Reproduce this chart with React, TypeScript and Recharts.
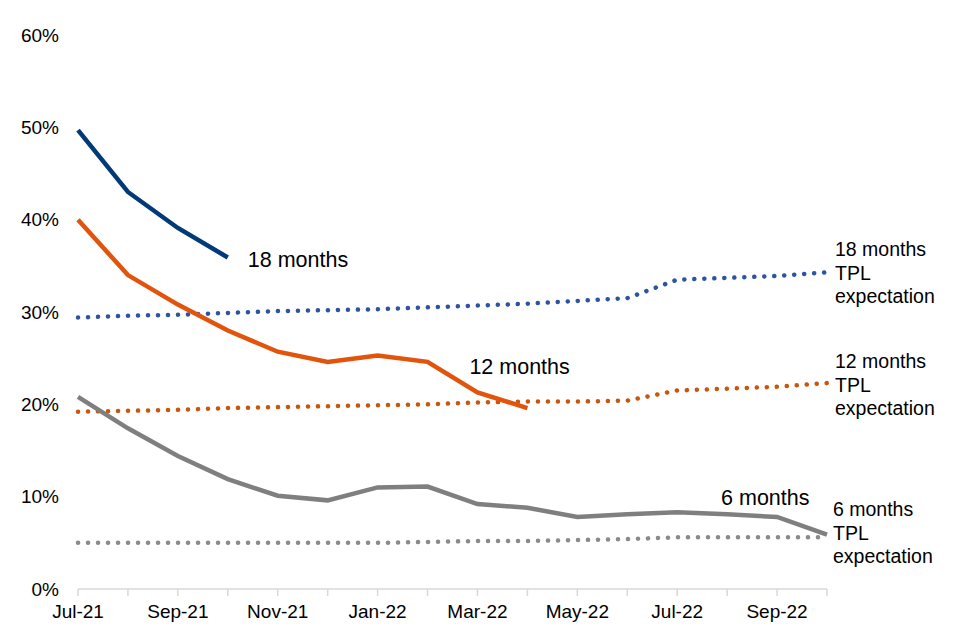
import { LineChart, Line, XAxis, YAxis } from 'recharts'

const months = [
  'Jul-21', 'Aug-21', 'Sep-21', 'Oct-21', 'Nov-21', 'Dec-21', 'Jan-22', 'Feb-22',
  'Mar-22', 'Apr-22', 'May-22', 'Jun-22', 'Jul-22', 'Aug-22', 'Sep-22', 'Oct-22',
]

const m18 = [49.7, 43.0, 39.1, 35.9]
const m12 = [40.0, 34.0, 30.8, 28.0, 25.7, 24.6, 25.3, 24.6, 21.3, 19.6]
const m6 = [20.8, 17.4, 14.4, 11.9, 10.1, 9.6, 11.0, 11.1, 9.2, 8.8, 7.8, 8.1, 8.3, 8.1, 7.8, 5.9]
const tpl18 = [29.4, 29.6, 29.7, 29.9, 30.1, 30.2, 30.3, 30.5, 30.7, 30.9, 31.2, 31.5, 33.5, 33.7, 33.9, 34.3]
const tpl12 = [19.2, 19.3, 19.4, 19.6, 19.7, 19.8, 19.9, 20.0, 20.2, 20.3, 20.3, 20.4, 21.5, 21.7, 21.9, 22.3]
const tpl6 = [5.0, 5.0, 5.0, 5.0, 5.0, 5.0, 5.0, 5.1, 5.2, 5.2, 5.3, 5.4, 5.6, 5.6, 5.6, 5.6]

const yTicks = [0, 10, 20, 30, 40, 50, 60]

const data = months.map((month, i) => ({
  month,
  m18: m18[i] ?? null,
  m12: m12[i] ?? null,
  m6: m6[i],
  tpl18: tpl18[i],
  tpl12: tpl12[i],
  tpl6: tpl6[i],
}))

const FONT = '"Liberation Sans", Arial, sans-serif'

// label drawn next to one point of a series
function pointLabel(target: number, lines: string[], dx: number, dy: number, size: number, lh: number) {
  return (props: any) => {
    if (props.index !== target || props.x == null) return null
    return (
      <text x={props.x + dx} y={props.y + dy} fill="#000" fontSize={size} fontFamily={FONT}>
        {lines.map((l, i) => (
          <tspan key={i} x={props.x + dx} dy={i === 0 ? 0 : lh}>{l}</tspan>
        ))}
      </text>
    )
  }
}

const dotted = { strokeDasharray: '0.1 9.9', strokeLinecap: 'round' as const, strokeWidth: 4.5 }

export default function App() {
  return (
    <div style={{ position: 'absolute', left: 0, top: 0, background: '#fff' }}>
      <LineChart width={960} height={640} data={data} margin={{ top: 35, right: 133, bottom: 21, left: 0 }}>
        <XAxis
          dataKey="month"
          interval={0}
          tickFormatter={(v: string, i: number) => (i % 2 === 0 ? v : '')}
          axisLine={{ stroke: '#D9D9D9', strokeWidth: 1.5 }}
          tickLine={{ stroke: '#D9D9D9', strokeWidth: 1.5 }}
          tickSize={7}
          tickMargin={9}
          height={30}
          tick={{ fill: '#000', fontSize: 19, fontFamily: FONT }}
        />
        <YAxis
          domain={[0, 60]}
          ticks={yTicks}
          tickFormatter={(v: number) => `${v}%`}
          axisLine={false}
          tickLine={false}
          tickMargin={13}
          width={78}
          tick={{ fill: '#000', fontSize: 19, fontFamily: FONT }}
        />
        <Line dataKey="tpl18" stroke="#2E54A1" dot={false} {...dotted} isAnimationActive={false}
          label={pointLabel(15, ['18 months', 'TPL', 'expectation'], 8, -16, 19.5, 23.5)} />
        <Line dataKey="tpl12" stroke="#C8560F" dot={false} {...dotted} isAnimationActive={false}
          label={pointLabel(15, ['12 months', 'TPL', 'expectation'], 8, -15, 19.5, 23.5)} />
        <Line dataKey="tpl6" stroke="#8A8A8A" dot={false} {...dotted} isAnimationActive={false}
          label={pointLabel(15, ['6 months', 'TPL', 'expectation'], 6, -21, 19.5, 23.5)} />
        <Line dataKey="m6" stroke="#7F7F7F" strokeWidth={4.5} dot={false} isAnimationActive={false}
          label={pointLabel(14, ['6 months'], -56, -12, 21.5, 0)} />
        <Line dataKey="m12" stroke="#E2530C" strokeWidth={4.5} dot={false} isAnimationActive={false}
          label={pointLabel(9, ['12 months'], -58, -34, 21.5, 0)} />
        <Line dataKey="m18" stroke="#003A78" strokeWidth={4.5} dot={false} isAnimationActive={false}
          label={pointLabel(3, ['18 months'], 20, 9, 21.5, 0)} />
      </LineChart>
    </div>
  )
}
